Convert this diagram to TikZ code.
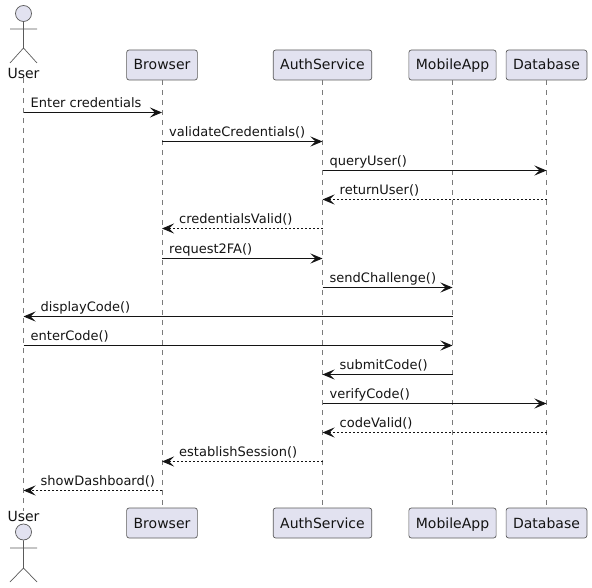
\documentclass[tikz,border=0pt]{standalone}
\usepackage{xcolor}
\usepackage{fontspec}
\setmainfont{DejaVu Sans}
\usepackage{tikz}
\usetikzlibrary{arrows.meta}
\definecolor{boxfill}{HTML}{E2E2F0}
\definecolor{hairline}{HTML}{5A5A5A}
\definecolor{lifegrey}{HTML}{7A7A7A}
\definecolor{txt}{HTML}{141414}
\tikzset{
  party/.style={draw=hairline, fill=boxfill, line width=0.7pt, rounded corners=2.5pt, minimum height=30pt, inner xsep=7pt, inner ysep=0pt, text height=10.5pt, text depth=0.5pt, text=txt, font=\fontsize{14}{16}\selectfont},
  actorname/.style={inner sep=0pt, text=txt, font=\fontsize{14}{16}\selectfont},
  actorhead/.style={circle, draw=hairline, fill=boxfill, line width=0.7pt, minimum size=16pt, inner sep=0pt},
  stick/.style={hairline, line width=0.7pt},
  lifeline/.style={lifegrey, line width=0.7pt, dash pattern=on 5pt off 5pt},
  call/.style={txt, line width=0.9pt, -{Stealth[length=12pt, width=10pt, inset=5pt]}},
  reply/.style={call, dash pattern=on 2pt off 2pt},
  msglabel/.style={anchor=base west, inner sep=0pt, text=txt, font=\fontsize{13}{15}\selectfont}
}
\begin{document}
\begin{tikzpicture}[x=1pt, y=-1pt]
    \useasboundingbox (0,0) rectangle (592,588);
    % top row
    \node[actorname] (usertop) at (23.5,73) {User};
    \node[party] (browsertop) at (162,65) {Browser};
    \node[party] (authtop) at (322.5,65) {AuthService};
    \node[party] (mobiletop) at (452.5,65) {MobileApp};
    \node[party] (dbtop) at (546.5,65) {Database};
    % bottom row
    \node[actorname] (userbot) at (23.5,516) {User};
    \node[party] (browserbot) at (162,523) {Browser};
    \node[party] (authbot) at (322.5,523) {AuthService};
    \node[party] (mobilebot) at (452.5,523) {MobileApp};
    \node[party] (dbbot) at (546.5,523) {Database};
    % lifelines
    \foreach \part in {user, browser, auth, mobile, db}
      \draw[lifeline] (\part top.south) -- (\part bot.north);
    % actors
    \node[actorhead] (headtop) at (23.5,13.5) {};
    \draw[stick] (headtop.south) -- (23.5,48) (10,29) -- (37,29) (10,63) -- (23.5,48) -- (37,63);
    \node[actorhead] (headbot) at (23.5,532) {};
    \draw[stick] (headbot.south) -- (23.5,568) (10,548) -- (37,548) (10,582) -- (23.5,568) -- (37,582);
    % messages
    \foreach \src/\dst/\y/\kind/\lft/\off/\lab in {
        usertop/browsertop/112.5/call/usertop/7/{Enter credentials},
        browsertop/authtop/141.5/call/browsertop/7/{validateCredentials()},
        authtop/dbtop/170.5/call/authtop/7/{queryUser()},
        dbtop/authtop/199.5/reply/authtop/17/{returnUser()},
        authtop/browsertop/228.5/reply/browsertop/17/{credentialsValid()},
        browsertop/authtop/258.5/call/browsertop/7/{request2FA()},
        authtop/mobiletop/287.5/call/authtop/7/{sendChallenge()},
        mobiletop/usertop/316.5/call/usertop/17/{displayCode()},
        usertop/mobiletop/345.5/call/usertop/7/{enterCode()},
        mobiletop/authtop/374.5/call/authtop/17/{submitCode()},
        authtop/dbtop/403.5/call/authtop/7/{verifyCode()},
        dbtop/authtop/432.5/reply/authtop/17/{codeValid()},
        authtop/browsertop/461.5/reply/browsertop/17/{establishSession()},
        browsertop/usertop/490.5/reply/usertop/17/{showDashboard()}} {
      \draw[\kind] (\src |- 0,\y) -- (\dst |- 0,\y);
      \node[msglabel, xshift=\off pt, yshift=5pt] (lab\y) at (\lft |- 0,\y) {\lab};
    }
  \end{tikzpicture}
\end{document}
